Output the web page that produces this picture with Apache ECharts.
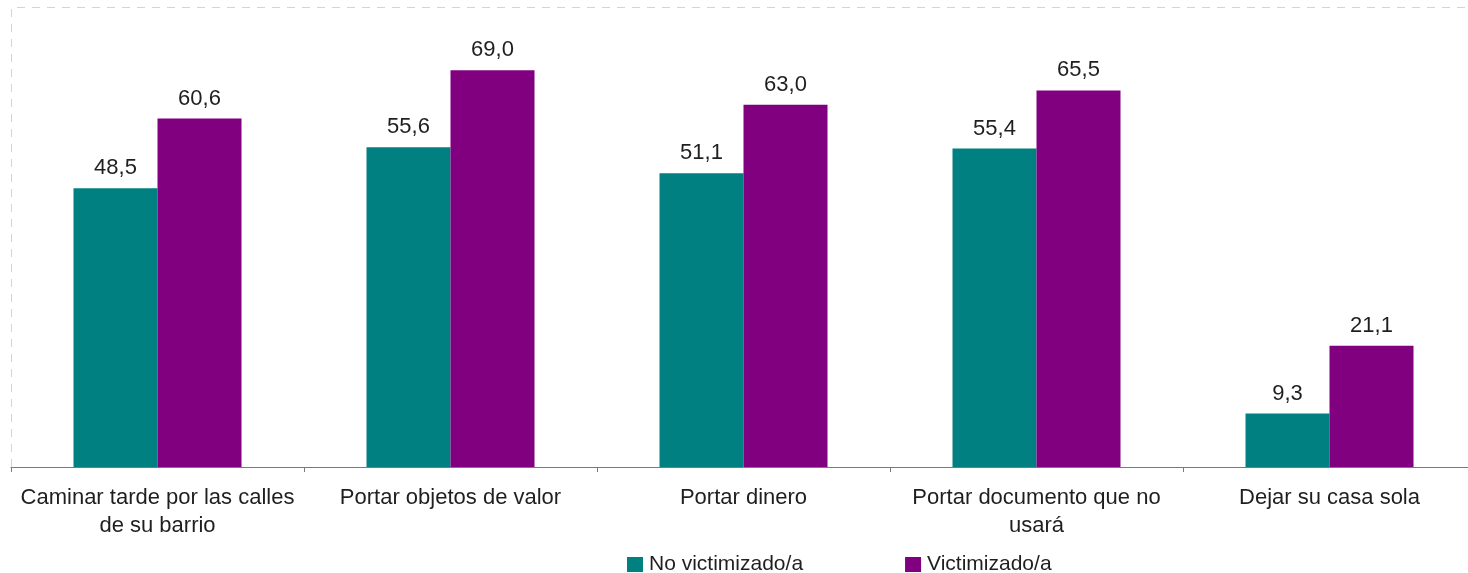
<!DOCTYPE html>
<html>
<head>
<meta charset="utf-8">
<script src="https://cdn.jsdelivr.net/npm/echarts@6/dist/echarts.min.js"></script>
<style>
  html, body { margin: 0; padding: 0; background: #ffffff; overflow: hidden; }
  #wrap { width: 1468px; height: 573px; overflow: hidden; }
  /* the plot runs slightly past the right edge and is clipped there */
  #chart { width: 1476px; height: 573px; }
</style>
</head>
<body>
<div id="wrap"><div id="chart"></div></div>
<script>
// Categories (line breaks as they wrap under the axis)
const categories = [
  'Caminar tarde por las calles\nde su barrio',
  'Portar objetos de valor',
  'Portar dinero',
  'Portar documento que no\nusará',
  'Dejar su casa sola'
];
const seriesNames = ['No victimizado/a', 'Victimizado/a'];
const noVictimizado = [48.5, 55.6, 51.1, 55.4, 9.3];
const victimizado = [60.6, 69.0, 63.0, 65.5, 21.1];

const FONT = '"Liberation Sans", Arial, sans-serif';
const TEXT = '#1f1f1f';

const fmt = v => v.toFixed(1).replace('.', ',');

const chart = echarts.init(document.getElementById('chart'), null, { renderer: 'canvas' });

function barSeries(name, data, color) {
  return {
    name: name,
    type: 'bar',
    data: data,
    barWidth: 84,
    barGap: '0%',
    itemStyle: { color: color },
    label: {
      show: true,
      position: 'top',
      distance: 9,
      color: TEXT,
      fontFamily: FONT,
      fontSize: 22,
      formatter: p => fmt(p.value)
    },
    emphasis: { disabled: true },
    animation: false
  };
}

chart.setOption({
  backgroundColor: '#ffffff',
  animation: false,
  grid: { left: 11, top: 7, right: 0, height: 460, containLabel: false },
  legend: {
    data: seriesNames,
    left: 622,
    top: 549,
    itemWidth: 16,
    itemHeight: 15,
    itemGap: 102,
    icon: 'rect',
    textStyle: { color: TEXT, fontFamily: FONT, fontSize: 21, padding: [0, 0, 0, 1] },
    selectedMode: false
  },
  xAxis: {
    type: 'category',
    data: categories,
    axisLine: { lineStyle: { color: '#7a7a7a', width: 1 } },
    axisTick: { show: true, length: 5, lineStyle: { color: '#7a7a7a' } },
    axisLabel: {
      interval: 0,
      margin: 17,
      color: TEXT,
      fontFamily: FONT,
      fontSize: 22,
      lineHeight: 28,
      align: 'center'
    }
  },
  yAxis: {
    type: 'value',
    min: 0,
    max: 80,
    interval: 20,
    show: false,
    splitLine: { show: false }
  },
  graphic: [
    {
      type: 'polyline',
      silent: true,
      shape: { points: [[11.5, 467], [11.5, 7.5], [1476, 7.5]] },
      style: { stroke: '#d4d4d4', lineWidth: 1, lineDash: [8, 7], fill: null }
    }
  ],
  series: [
    barSeries(seriesNames[0], noVictimizado, '#008080'),
    barSeries(seriesNames[1], victimizado, '#800080')
  ]
});
</script>
</body>
</html>
